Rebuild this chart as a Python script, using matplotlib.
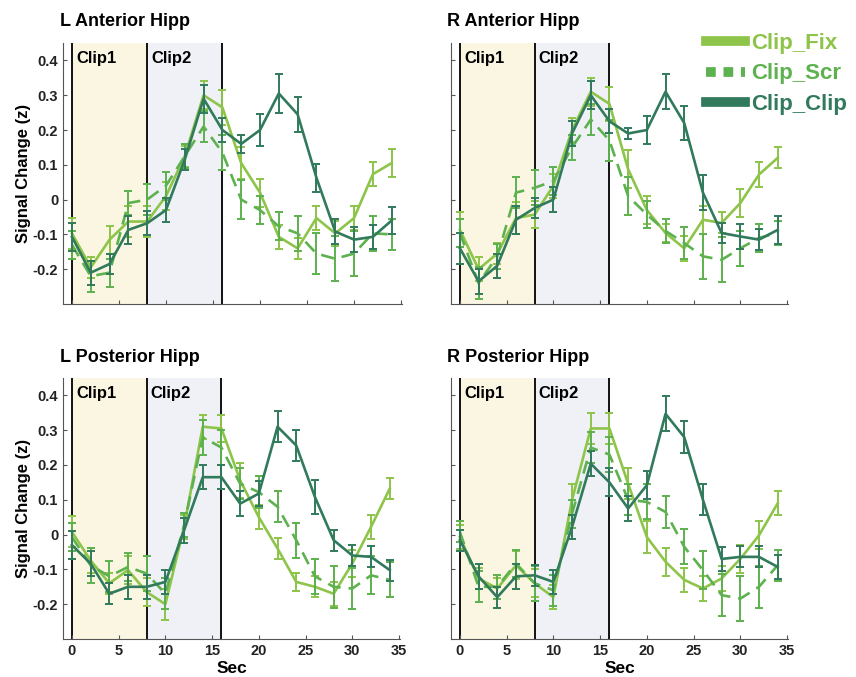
import numpy as np
import matplotlib
matplotlib.use("Agg")
import matplotlib.pyplot as plt
from matplotlib.lines import Line2D

plt.rcParams['font.family'] = ['Liberation Sans', 'DejaVu Sans']
plt.rcParams['font.weight'] = 'bold'

# time points (sec)
sec = np.arange(0, 35, 2)

# L Anterior Hipp
la_fix = [-0.097, -0.195, -0.115, -0.063, -0.063, 0.01, 0.125, 0.30, 0.265, 0.105,
          0.02, -0.107, -0.14, -0.053, -0.097, -0.053, 0.073, 0.105]
la_scr = [-0.13, -0.22, -0.21, -0.01, 0.0, 0.04, 0.125, 0.21, 0.135, 0.0,
          -0.03, -0.077, -0.097, -0.155, -0.17, -0.155, -0.097, -0.10]
la_clip = [-0.107, -0.21, -0.185, -0.087, -0.068, -0.03, 0.115, 0.29, 0.20, 0.16,
           0.20, 0.305, 0.245, 0.063, -0.092, -0.115, -0.107, -0.06]
la_fix_err = [0.045, 0.03, 0.04, 0.045, 0.045, 0.04, 0.03, 0.04, 0.05, 0.045,
              0.04, 0.035, 0.03, 0.035, 0.035, 0.035, 0.035, 0.04]
la_scr_err = [0.04, 0.045, 0.04, 0.035, 0.045, 0.04, 0.035, 0.045, 0.05, 0.055,
              0.04, 0.04, 0.05, 0.06, 0.065, 0.065, 0.05, 0.045]
la_clip_err = [0.04, 0.035, 0.03, 0.04, 0.035, 0.035, 0.03, 0.04, 0.035, 0.025,
               0.045, 0.055, 0.05, 0.04, 0.035, 0.035, 0.035, 0.04]

# R Anterior Hipp
ra_fix = [-0.087, -0.20, -0.155, -0.053, -0.043, 0.04, 0.20, 0.31, 0.275, 0.087,
          -0.03, -0.096, -0.14, -0.058, -0.067, -0.01, 0.072, 0.12]
ra_scr = [-0.096, -0.24, -0.163, 0.02, 0.034, 0.053, 0.15, 0.23, 0.17, 0.01,
          -0.043, -0.09, -0.125, -0.163, -0.173, -0.14, -0.11, -0.096]
ra_clip = [-0.14, -0.235, -0.19, -0.058, -0.024, 0.0, 0.19, 0.30, 0.225, 0.19,
           0.20, 0.31, 0.22, 0.02, -0.096, -0.106, -0.115, -0.087]
ra_fix_err = [0.05, 0.035, 0.03, 0.045, 0.04, 0.035, 0.035, 0.04, 0.05, 0.055,
              0.04, 0.025, 0.035, 0.04, 0.03, 0.04, 0.035, 0.03]
ra_scr_err = [0.04, 0.045, 0.035, 0.045, 0.05, 0.04, 0.035, 0.045, 0.06, 0.055,
              0.04, 0.035, 0.045, 0.065, 0.065, 0.05, 0.04, 0.035]
ra_clip_err = [0.045, 0.035, 0.035, 0.04, 0.03, 0.035, 0.035, 0.04, 0.035, 0.015,
               0.04, 0.05, 0.05, 0.05, 0.03, 0.035, 0.03, 0.04]

# L Posterior Hipp
lp_fix = [0.008, -0.074, -0.14, -0.102, -0.165, -0.20, 0.022, 0.31, 0.305, 0.156,
          0.05, -0.04, -0.136, -0.15, -0.17, -0.083, 0.022, 0.132]
lp_scr = [-0.007, -0.088, -0.12, -0.093, -0.112, -0.17, 0.027, 0.28, 0.25, 0.146,
          0.122, 0.08, -0.016, -0.12, -0.15, -0.155, -0.117, -0.13]
lp_clip = [-0.03, -0.083, -0.17, -0.15, -0.15, -0.136, 0.012, 0.165, 0.165, 0.089,
           0.118, 0.31, 0.256, 0.108, -0.016, -0.06, -0.064, -0.102]
lp_fix_err = [0.045, 0.035, 0.03, 0.04, 0.04, 0.045, 0.035, 0.035, 0.04, 0.05,
              0.035, 0.03, 0.025, 0.03, 0.035, 0.04, 0.035, 0.03]
lp_scr_err = [0.04, 0.05, 0.045, 0.04, 0.05, 0.045, 0.035, 0.05, 0.05, 0.045,
              0.045, 0.045, 0.05, 0.05, 0.06, 0.06, 0.055, 0.05]
lp_clip_err = [0.04, 0.035, 0.03, 0.035, 0.035, 0.035, 0.035, 0.035, 0.035, 0.035,
               0.035, 0.045, 0.045, 0.05, 0.03, 0.03, 0.03, 0.03]

# R Posterior Hipp
rp_fix = [-0.007, -0.126, -0.155, -0.088, -0.14, -0.18, 0.10, 0.305, 0.305, 0.146,
          -0.007, -0.078, -0.13, -0.155, -0.126, -0.07, -0.002, 0.09]
rp_scr = [0.008, -0.15, -0.15, -0.083, -0.14, -0.16, 0.06, 0.25, 0.23, 0.10,
          0.094, 0.065, -0.035, -0.102, -0.174, -0.184, -0.15, -0.088]
rp_clip = [-0.016, -0.12, -0.18, -0.12, -0.117, -0.136, 0.022, 0.204, 0.15, 0.075,
           0.142, 0.347, 0.28, 0.10, -0.07, -0.064, -0.064, -0.093]
rp_fix_err = [0.035, 0.03, 0.03, 0.04, 0.04, 0.035, 0.045, 0.045, 0.045, 0.045,
              0.045, 0.04, 0.035, 0.035, 0.035, 0.04, 0.04, 0.035]
rp_scr_err = [0.03, 0.045, 0.035, 0.04, 0.05, 0.045, 0.04, 0.045, 0.05, 0.045,
              0.05, 0.045, 0.05, 0.055, 0.06, 0.065, 0.06, 0.045]
rp_clip_err = [0.03, 0.035, 0.03, 0.035, 0.03, 0.035, 0.035, 0.035, 0.04, 0.035,
               0.04, 0.05, 0.045, 0.045, 0.035, 0.03, 0.03, 0.035]

titles = ["L Anterior Hipp", "R Anterior Hipp", "L Posterior Hipp", "R Posterior Hipp"]
panels = [
    (la_fix, la_fix_err, la_scr, la_scr_err, la_clip, la_clip_err),
    (ra_fix, ra_fix_err, ra_scr, ra_scr_err, ra_clip, ra_clip_err),
    (lp_fix, lp_fix_err, lp_scr, lp_scr_err, lp_clip, lp_clip_err),
    (rp_fix, rp_fix_err, rp_scr, rp_scr_err, rp_clip, rp_clip_err),
]

c_fix = "#8dc449"
c_scr = "#5db14e"
c_clip = "#317a5c"

fig = plt.figure(figsize=(8.56, 6.77), dpi=100)

W, H = 856, 677
# axes boxes in pixels: left, top, right, bottom
boxes = [(63, 43, 402, 304), (451, 43, 788, 304),
         (63, 378, 400, 639), (451, 378, 788, 639)]
title_pos = [(60, 22), (447, 22), (60, 358), (447, 358)]

for i, (box, title, data) in enumerate(zip(boxes, titles, panels)):
    l, t, r, b = box
    ax = fig.add_axes([l / W, 1 - b / H, (r - l) / W, (b - t) / H])
    fix, fix_err, scr, scr_err, clip, clip_err = data

    ax.axvspan(0, 8, color="#fbf6e2", zorder=0)
    ax.axvspan(8, 16, color="#eff1f6", zorder=0)
    for xv in [0, 8, 16]:
        ax.axvline(xv, color="black", lw=1.3, zorder=1)
    ax.text(0.45, 0.405, "Clip1", fontsize=12, fontweight="bold", va="center")
    ax.text(8.45, 0.405, "Clip2", fontsize=12, fontweight="bold", va="center")

    ax.errorbar(sec, fix, yerr=fix_err, color=c_fix, lw=1.9, elinewidth=1.4,
                capsize=3, capthick=1.4, zorder=3)
    ax.errorbar(sec, scr, yerr=scr_err, color=c_scr, lw=1.9, elinewidth=1.4,
                capsize=3, capthick=1.4, ls=(0, (5, 3)), zorder=4)
    ax.errorbar(sec, clip, yerr=clip_err, color=c_clip, lw=1.9, elinewidth=1.4,
                capsize=3, capthick=1.4, zorder=5)

    ax.set_xlim(-0.95, 35.1)
    ax.set_ylim(-0.30, 0.45)
    ax.set_yticks([-0.2, -0.1, 0, 0.1, 0.2, 0.3, 0.4])
    ax.set_yticklabels(["-0.2", "-0.1", "0", "0.1", "0.2", "0.3", "0.4"])
    ax.set_xticks([0, 5, 10, 15, 20, 25, 30, 35])
    ax.tick_params(direction="in", length=3, width=0.8, labelsize=10.5,
                   color="#555555", labelcolor="#222222")
    for s in ["top", "right"]:
        ax.spines[s].set_visible(False)
    for s in ["left", "bottom"]:
        ax.spines[s].set_color("#555555")
    if i % 2 == 1:
        ax.set_yticklabels([])
    else:
        ax.set_ylabel("Signal Change (z)", fontsize=12, fontweight="bold", labelpad=1)
    if i < 2:
        ax.set_xticklabels([])
    else:
        ax.set_xlabel("Sec", fontsize=12.5, fontweight="bold", labelpad=2.5)
    for lab in ax.get_xticklabels() + ax.get_yticklabels():
        lab.set_fontweight("bold")

    tx, ty = title_pos[i]
    fig.text(tx / W, 1 - ty / H, title, fontsize=13, fontweight="bold", va="center")

# legend
handles = [Line2D([0], [0], color=c_fix, lw=7),
           Line2D([0], [0], color=c_scr, lw=7, ls=(0, (1.0, 0.8))),
           Line2D([0], [0], color=c_clip, lw=7)]
leg = fig.legend(handles, ["Clip_Fix", "Clip_Scr", "Clip_Clip"], loc="upper left",
                 bbox_to_anchor=(706 / W, 1 - 33 / H), frameon=False,
                 handlelength=1.75, handletextpad=0.3, labelspacing=0.42,
                 borderpad=0, borderaxespad=0,
                 prop={"size": 16, "weight": "bold"})
for txt, c in zip(leg.get_texts(), [c_fix, c_scr, c_clip]):
    txt.set_color(c)

fig.savefig("out.png", dpi=100)
